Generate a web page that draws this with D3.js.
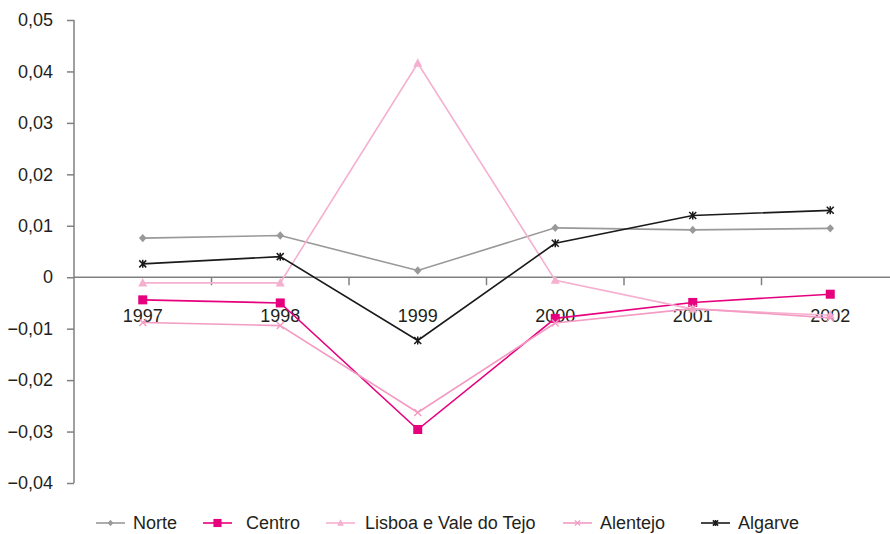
<!DOCTYPE html>
<html><head><meta charset="utf-8">
<script src="https://cdn.jsdelivr.net/npm/d3@7"></script>
<style>body{margin:0;background:#fff}svg{display:block;font-family:"Liberation Sans",Arial,sans-serif}</style>
</head><body><svg id="c" width="890" height="534"></svg>
<script>
const years = ["1997","1998","1999","2000","2001","2002"];
const norte   = [0.0076, 0.0081, 0.0013, 0.0096, 0.0092, 0.0095];
const centro  = [-0.0044, -0.0050, -0.0296, -0.0080, -0.0049, -0.0033];
const lisboa  = [-0.0011, -0.0011, 0.0416, -0.0006, -0.0062, -0.0074];
const alentejo= [-0.0088, -0.0094, -0.0263, -0.0089, -0.0061, -0.0079];
const algarve = [0.0026, 0.0040, -0.0123, 0.0066, 0.0120, 0.0130];
const yTicks = [-0.04,-0.03,-0.02,-0.01,0,0.01,0.02,0.03,0.04,0.05];

const series = [
  {name:"Norte", values:norte, color:"#999999", marker:"diamond"},
  {name:"Centro", values:centro, color:"#e6007e", marker:"square"},
  {name:"Lisboa e Vale do Tejo", values:lisboa, color:"#f5afcf", marker:"triangle"},
  {name:"Alentejo", values:alentejo, color:"#f39bc2", marker:"x"},
  {name:"Algarve", values:algarve, color:"#1a1a1a", marker:"star"}
];

const svg = d3.select("#c");
const x = d3.scaleBand().domain(years).range([74, 899]);
const y = d3.scaleLinear().domain([-0.04, 0.05]).range([483, 20]);
const fmt = v => v === 0 ? "0" : d3.format(".2f")(v).replace(".", ",");
const FS = 18;

// y axis
const yAx = svg.append("g").attr("transform","translate(74,0)")
  .call(d3.axisLeft(y).tickValues(yTicks).tickFormat(fmt).tickSize(7).tickPadding(14));
yAx.select(".domain").attr("stroke","#808080").attr("stroke-width",1.5).attr("d","M0,20V483");
yAx.selectAll(".tick line").attr("stroke","#808080").attr("stroke-width",1.5);
yAx.selectAll(".tick text").attr("fill","#231f20").attr("font-size",FS).attr("font-family","Liberation Sans, Arial, sans-serif");

// x axis at zero
const xAx = svg.append("g").attr("transform",`translate(0,${y(0)})`)
  .call(d3.axisBottom(x).tickSize(0).tickPadding(0));
xAx.select(".domain").attr("stroke","#808080").attr("stroke-width",1.5).attr("d","M74,0H899");
xAx.selectAll(".tick text").attr("fill","#231f20").attr("font-size",FS)
  .attr("font-family","Liberation Sans, Arial, sans-serif").attr("dy",null).attr("y",45);
const bounds = years.slice(1).map(d => x(d));
xAx.selectAll(".bt").data(bounds).enter().append("line")
  .attr("x1",d=>d).attr("x2",d=>d).attr("y1",0).attr("y2",8)
  .attr("stroke","#808080").attr("stroke-width",1.5);

const cx = d => x(d) + x.bandwidth()/2;

function marker(g, type, color, k){
  if(type==="diamond") g.append("path").attr("d",`M0,${-4.2*k}L${3.8*k},0L0,${4.2*k}L${-3.8*k},0Z`).attr("fill",color);
  else if(type==="square") g.append("rect").attr("x",-4.5*k).attr("y",-4.5*k).attr("width",9*k).attr("height",9*k).attr("fill",color);
  else if(type==="triangle") g.append("path").attr("d",`M0,${-5*k}L${4.5*k},${3.5*k}L${-4.5*k},${3.5*k}Z`).attr("fill",color);
  else if(type==="x") g.append("path").attr("d",`M${-3.5*k},${-3.5*k}L${3.5*k},${3.5*k}M${-3.5*k},${3.5*k}L${3.5*k},${-3.5*k}`).attr("stroke",color).attr("stroke-width",1.4);
  else if(type==="star") g.append("path").attr("d",`M${-3.5*k},${-3.5*k}L${3.5*k},${3.5*k}M${-3.5*k},${3.5*k}L${3.5*k},${-3.5*k}M0,${-4*k}V${4*k}`).attr("stroke",color).attr("stroke-width",1.5);
}

series.forEach(s => {
  const line = d3.line().x((d,i)=>cx(years[i])).y(d=>y(d));
  svg.append("path").datum(s.values).attr("d",line).attr("fill","none")
    .attr("stroke",s.color).attr("stroke-width",1.6);
  s.values.forEach((v,i)=>{
    const g = svg.append("g").attr("transform",`translate(${cx(years[i])},${y(v)})`);
    marker(g, s.marker, s.color, 1);
  });
});

// legend
const legX = [96, 203, 326, 563, 701];
const legTX = [133, 246, 365, 600, 738];
const legY = 523;
series.forEach((s,i)=>{
  const g = svg.append("g").attr("transform",`translate(${legX[i]},${legY})`);
  g.append("line").attr("x1",0).attr("x2",29).attr("stroke",s.color).attr("stroke-width",1.6);
  const m = g.append("g").attr("transform","translate(14.5,0)");
  marker(m, s.marker, s.color, s.marker==="square"?0.9:0.75);
  svg.append("text").attr("x",legTX[i]).attr("y",legY+6).attr("font-size",FS).attr("fill","#231f20")
    .text(s.name);
});
</script></body></html>
